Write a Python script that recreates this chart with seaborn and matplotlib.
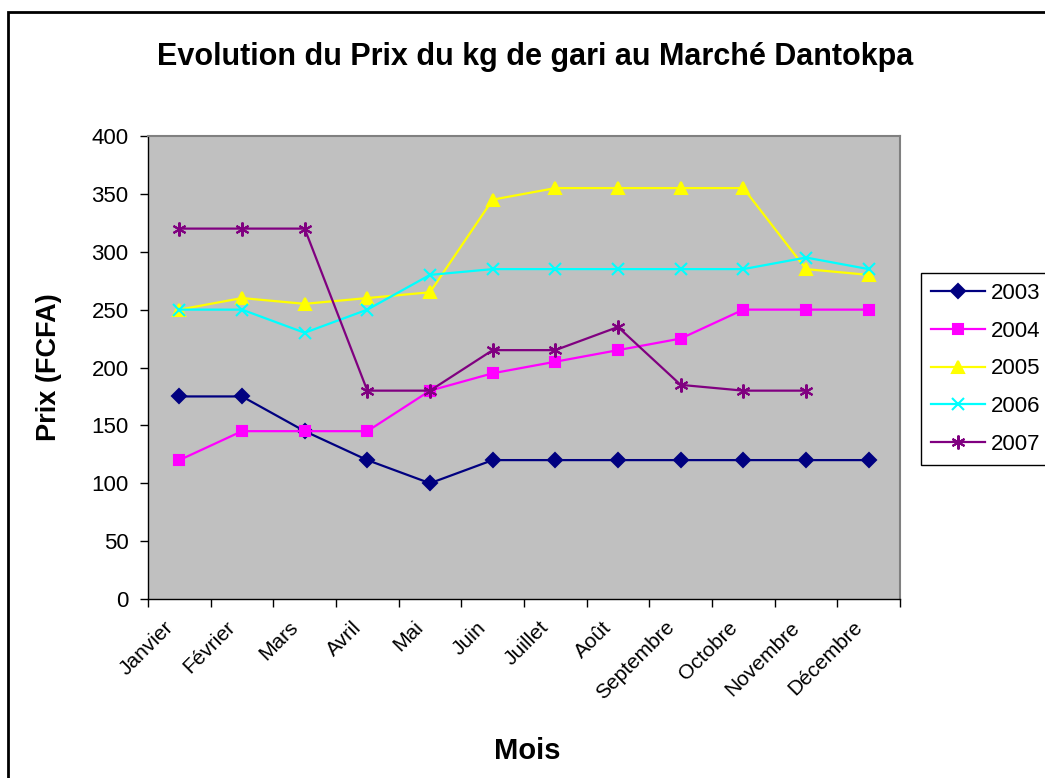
import pandas as pd
import matplotlib.pyplot as plt
import matplotlib.transforms as mtransforms
import seaborn as sns
from matplotlib.patches import Rectangle
from matplotlib.ticker import FixedLocator

# Data
mois = ["Janvier", "Février", "Mars", "Avril", "Mai", "Juin", "Juillet",
        "Août", "Septembre", "Octobre", "Novembre", "Décembre"]
prix_2003 = [175, 175, 145, 120, 100, 120, 120, 120, 120, 120, 120, 120]
prix_2004 = [120, 145, 145, 145, 180, 195, 205, 215, 225, 250, 250, 250]
prix_2005 = [250, 260, 255, 260, 265, 345, 355, 355, 355, 355, 285, 280]
prix_2006 = [250, 250, 230, 250, 280, 285, 285, 285, 285, 285, 295, 285]
prix_2007 = [320, 320, 320, 180, 180, 215, 215, 235, 185, 180, 180, None]

annees = ["2003", "2004", "2005", "2006", "2007"]
series = [prix_2003, prix_2004, prix_2005, prix_2006, prix_2007]
couleurs = ["#000080", "#FF00FF", "#FFFF00", "#00FFFF", "#800080"]
marqueurs = ["D", "s", "^", "x", (6, 2, 0)]
tailles = [7.5, 7.5, 9, 9, 10]

plt.rcParams['font.family'] = ['Liberation Sans', 'DejaVu Sans']

fig = plt.figure(figsize=(10.45, 7.78), dpi=100)
ax = fig.add_axes([148 / 1045, 1 - 599 / 778, 752 / 1045, 463 / 778])
ax.set_facecolor("#C0C0C0")

for annee, valeurs, coul, mk, ms in zip(annees, series, couleurs, marqueurs, tailles):
    df = pd.DataFrame({"mois": mois, "prix": valeurs}).dropna()
    sns.lineplot(data=df, x="mois", y="prix", ax=ax, color=coul, marker=mk,
                 markersize=ms, markeredgecolor=coul, markerfacecolor=coul,
                 markeredgewidth=1.5, linewidth=1.6, label=annee, sort=False)

ax.set_xlim(-0.5, len(mois) - 0.5)
ax.set_ylim(0, 400)
ax.set_yticks(range(0, 401, 50))
ax.tick_params(axis="y", labelsize=16, length=6, width=1, direction="out", pad=8)
ax.set_xticks(range(len(mois)))
ax.set_xticklabels(mois, rotation=45, ha="right", va="top", rotation_mode="anchor")
ax.tick_params(axis="x", which="major", length=0, labelsize=15, pad=12)
ax.xaxis.set_minor_locator(FixedLocator([i - 0.5 for i in range(len(mois) + 1)]))
ax.tick_params(axis="x", which="minor", length=6, width=1, direction="out")

# shift the rotated month labels a bit to the left, like the original
decalage = mtransforms.ScaledTranslation(-16 / 100, -2 / 100, fig.dpi_scale_trans)
for lab in ax.get_xticklabels():
    lab.set_transform(lab.get_transform() + decalage)

for side in ["top", "right"]:
    ax.spines[side].set_color("#808080")
    ax.spines[side].set_linewidth(1.5)
for side in ["left", "bottom"]:
    ax.spines[side].set_color("black")
    ax.spines[side].set_linewidth(1)

ax.set_xlabel("Mois", fontsize=21, fontweight="bold")
ax.set_ylabel("Prix (FCFA)", fontsize=19.5, fontweight="bold")
ax.xaxis.set_label_coords((527 - 148) / 752, (599 - 737) / 463)
ax.yaxis.set_label_coords((62 - 148) / 752, (599 - 367) / 463)

fig.text(535 / 1045, 1 - 57 / 778, "Evolution du Prix du kg de gari au Marché Dantokpa",
         ha="center", va="center", fontsize=22, fontweight="bold")

leg = ax.legend(loc="upper left", bbox_to_anchor=(921 / 1045, 1 - 273 / 778),
                bbox_transform=fig.transFigure, fontsize=16, frameon=True,
                fancybox=False, edgecolor="black", framealpha=1,
                handlelength=2.45, handletextpad=0.25, labelspacing=0.75,
                borderpad=0.45, borderaxespad=0)
leg.get_frame().set_linewidth(1)

fig.patches.append(Rectangle((8 / 1045, -0.1), 1.2, 1 - 12 / 778 + 0.1,
                             transform=fig.transFigure, fill=False,
                             edgecolor="black", linewidth=2))

fig.savefig("out.png", dpi=100)
